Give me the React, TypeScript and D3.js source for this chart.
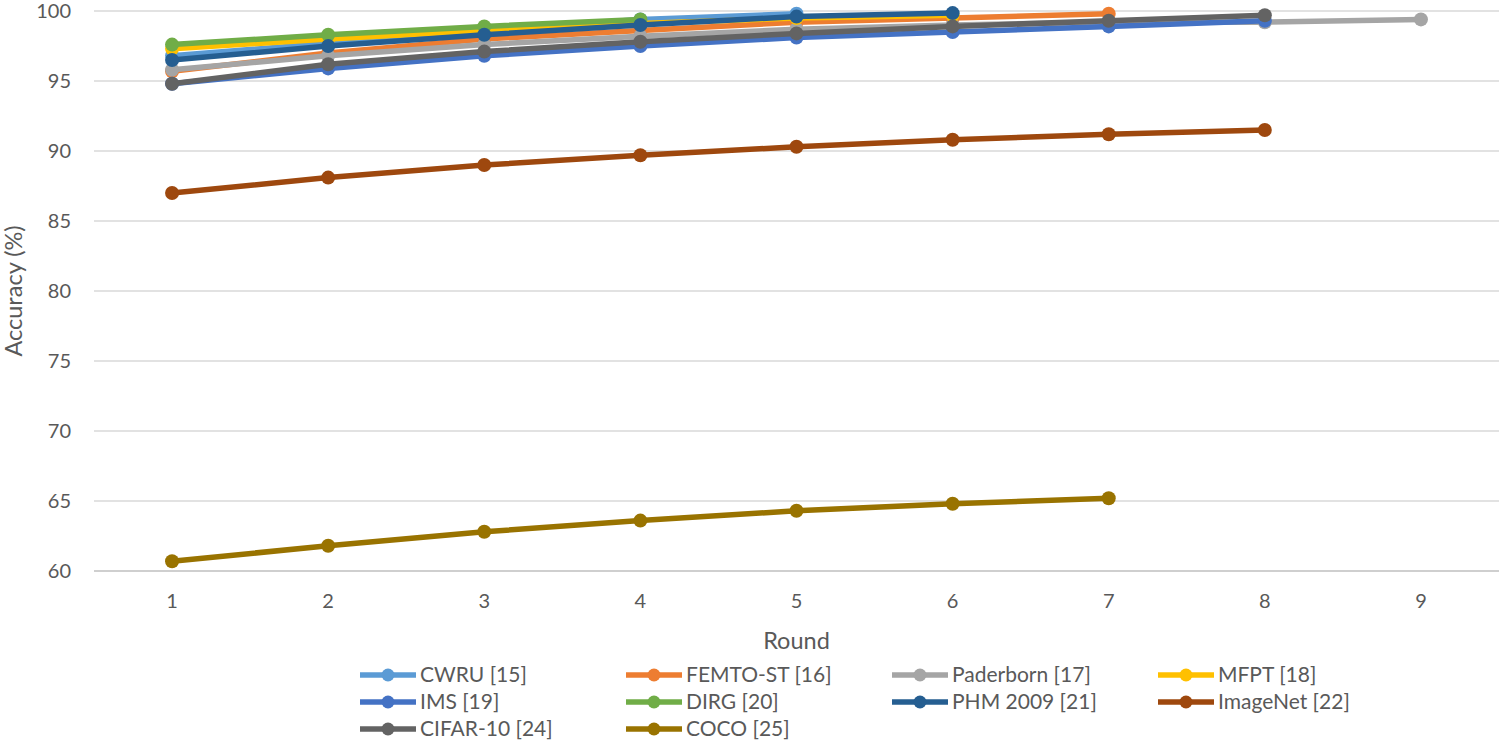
import React from "react";
import * as d3 from "d3";

const rounds = [1, 2, 3, 4, 5, 6, 7, 8, 9];
const yTicks = [60, 65, 70, 75, 80, 85, 90, 95, 100];

const seriesNames = [
  "CWRU [15]",
  "FEMTO-ST [16]",
  "Paderborn [17]",
  "MFPT [18]",
  "IMS [19]",
  "DIRG [20]",
  "PHM 2009 [21]",
  "ImageNet [22]",
  "CIFAR-10 [24]",
  "COCO [25]",
];

const seriesColors = [
  "#5B9BD5",
  "#ED7D31",
  "#A5A5A5",
  "#FFC000",
  "#4472C4",
  "#70AD47",
  "#255E91",
  "#9E480E",
  "#636363",
  "#997300",
];

const cwru = [96.8, 97.7, 98.6, 99.4, 99.8];
const femto = [95.7, 97.0, 98.0, 98.6, 99.2, 99.5, 99.8];
const paderborn = [95.8, 96.8, 97.6, 98.2, 98.7, 99.0, 99.2, 99.2, 99.4];
const mfpt = [97.3, 98.0, 98.6, 99.1, 99.5, 99.7];
const ims = [94.8, 95.9, 96.8, 97.5, 98.1, 98.5, 98.9, 99.3];
const dirg = [97.6, 98.3, 98.9, 99.4];
const phm = [96.5, 97.5, 98.3, 99.0, 99.6, 99.85];
const imagenet = [87.0, 88.1, 89.0, 89.7, 90.3, 90.8, 91.2, 91.5];
const cifar = [94.8, 96.2, 97.1, 97.8, 98.4, 98.9, 99.3, 99.7];
const coco = [60.7, 61.8, 62.8, 63.6, 64.3, 64.8, 65.2];

const seriesValues = [cwru, femto, paderborn, mfpt, ims, dirg, phm, imagenet, cifar, coco];

const W = 1505;
const H = 746;
const font = "Lato, 'Open Sans', sans-serif";
const textColor = "#595959";

export default function App() {
  const plot = { left: 94, right: 1499, top: 11, bottom: 571 };

  const x = d3
    .scaleLinear()
    .domain([0.5, 9.5])
    .range([plot.left, plot.right]);
  const y = d3.scaleLinear().domain([60, 100]).range([plot.bottom, plot.top]);

  const line = d3
    .line<number>()
    .x((_, i) => x(rounds[i]))
    .y((d) => y(d));

  // legend layout: 4 columns, 3 rows
  const legendCols = [360, 626, 892, 1158];
  const legendRows = [675, 702, 729];

  return (
    <div style={{ position: "absolute", left: 0, top: 0 }}>
      <svg width={W} height={H} style={{ display: "block", background: "#fff" }}>
        {/* gridlines */}
        {yTicks.map((t) => (
          <line
            key={t}
            x1={plot.left}
            x2={plot.right}
            y1={y(t)}
            y2={y(t)}
            stroke={t === 60 ? "#BFBFBF" : "#D9D9D9"}
            strokeWidth={1.5}
          />
        ))}
        {/* y tick labels */}
        {yTicks.map((t) => (
          <text
            key={t}
            x={71}
            y={y(t)}
            dy="0.35em"
            textAnchor="end"
            fontFamily={font}
            fontSize={20}
            fill={textColor}
          >
            {t}
          </text>
        ))}
        {/* x tick labels */}
        {rounds.map((r) => (
          <text
            key={r}
            x={x(r)}
            y={608}
            textAnchor="middle"
            fontFamily={font}
            fontSize={20}
            fill={textColor}
          >
            {r}
          </text>
        ))}
        <text
          x={x(5)}
          y={649}
          textAnchor="middle"
          fontFamily={font}
          fontSize={23.5}
          fill={textColor}
        >
          Round
        </text>
        <text
          transform={`translate(22, ${(plot.top + plot.bottom) / 2}) rotate(-90)`}
          textAnchor="middle"
          fontFamily={font}
          fontSize={23.5}
          fill={textColor}
        >
          Accuracy (%)
        </text>

        {/* series */}
        {seriesValues.map((vals, si) => (
          <g key={seriesNames[si]}>
            <path
              d={line(vals) ?? ""}
              fill="none"
              stroke={seriesColors[si]}
              strokeWidth={5.5}
              strokeLinejoin="round"
            />
            {vals.map((v, i) => (
              <circle key={i} cx={x(rounds[i])} cy={y(v)} r={7} fill={seriesColors[si]} />
            ))}
          </g>
        ))}

        {/* legend */}
        {seriesNames.map((name, i) => {
          const cx = legendCols[i % 4];
          const cy = legendRows[Math.floor(i / 4)];
          return (
            <g key={name}>
              <line
                x1={cx}
                x2={cx + 56}
                y1={cy}
                y2={cy}
                stroke={seriesColors[i]}
                strokeWidth={5.5}
              />
              <circle cx={cx + 28} cy={cy} r={6.5} fill={seriesColors[i]} />
              <text
                x={cx + 60}
                y={cy}
                dy="0.35em"
                fontFamily={font}
                fontSize={21}
                fill={textColor}
              >
                {name}
              </text>
            </g>
          );
        })}
      </svg>
    </div>
  );
}
